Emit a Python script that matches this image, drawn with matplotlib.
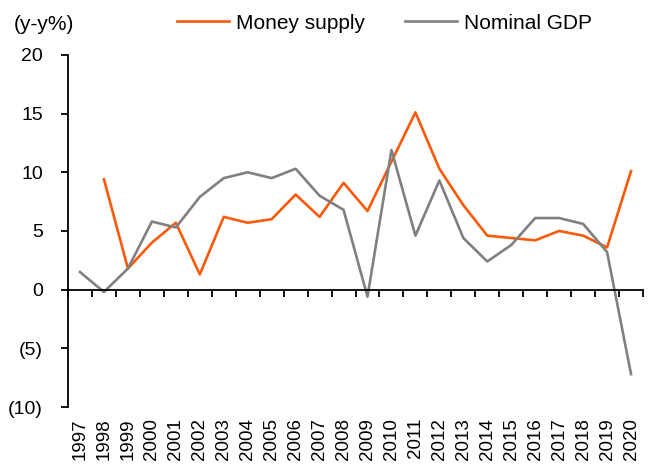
import numpy as np
import matplotlib.pyplot as plt
from matplotlib.ticker import FuncFormatter

plt.rcParams['font.family'] = ['Liberation Sans', 'DejaVu Sans']

years = [str(y) for y in range(1997, 2021)]
money_supply = [np.nan, 9.4, 1.8, 4.0, 5.7, 1.3, 6.2, 5.7, 6.0, 8.1, 6.2, 9.1, 6.7,
                10.9, 15.1, 10.3, 7.2, 4.6, 4.4, 4.2, 5.0, 4.6, 3.6, 10.1]
nominal_gdp = [1.5, -0.2, 1.8, 5.8, 5.3, 7.9, 9.5, 10.0, 9.5, 10.3, 8.0, 6.8, -0.6,
               11.9, 4.6, 9.3, 4.4, 2.4, 3.8, 6.1, 6.1, 5.6, 3.2, -7.2]

fig = plt.figure(figsize=(6.56, 4.72), dpi=100)
ax = fig.add_axes([0.1037, 0.1377, 0.8765, 0.746])

x = np.arange(len(years))
ax.plot(x, money_supply, color='#FA5A0A', lw=1.9, label='Money supply')
ax.plot(x, nominal_gdp, color='#808080', lw=1.9, label='Nominal GDP')

ax.set_xlim(-0.5, len(years) - 0.5)
ax.set_ylim(-10, 20)
ax.set_yticks(np.arange(-10, 21, 5))
ax.yaxis.set_major_formatter(FuncFormatter(
    lambda v, p: '({:.0f})'.format(abs(v)) if v < 0 else '{:.0f}'.format(v)))
ax.tick_params(axis='y', direction='out', length=5, width=1.3, labelsize=14, pad=13)

ax.spines['top'].set_visible(False)
ax.spines['right'].set_visible(False)
ax.spines['left'].set_linewidth(1.3)
ax.spines['bottom'].set_position(('data', 0))
ax.spines['bottom'].set_linewidth(1.3)
ax.set_xticks(np.arange(-0.5, len(years), 1))
ax.set_xticklabels([])
ax.tick_params(axis='x', direction='out', length=5, width=1.3)

sec = ax.secondary_xaxis('bottom')
sec.set_xticks(x, labels=years, rotation=90)
sec.tick_params(length=0, labelsize=13.5, pad=8)
sec.spines['bottom'].set_visible(False)

fig.text(0.021, 0.948, '(y-y%)', fontsize=15, va='center')
ax.legend(loc='center', bbox_to_anchor=(0.55, 1.09), ncol=2, frameon=False,
          fontsize=15, handlelength=2.5, handletextpad=0.33, columnspacing=1.9)

fig.savefig('out.png', dpi=100)
